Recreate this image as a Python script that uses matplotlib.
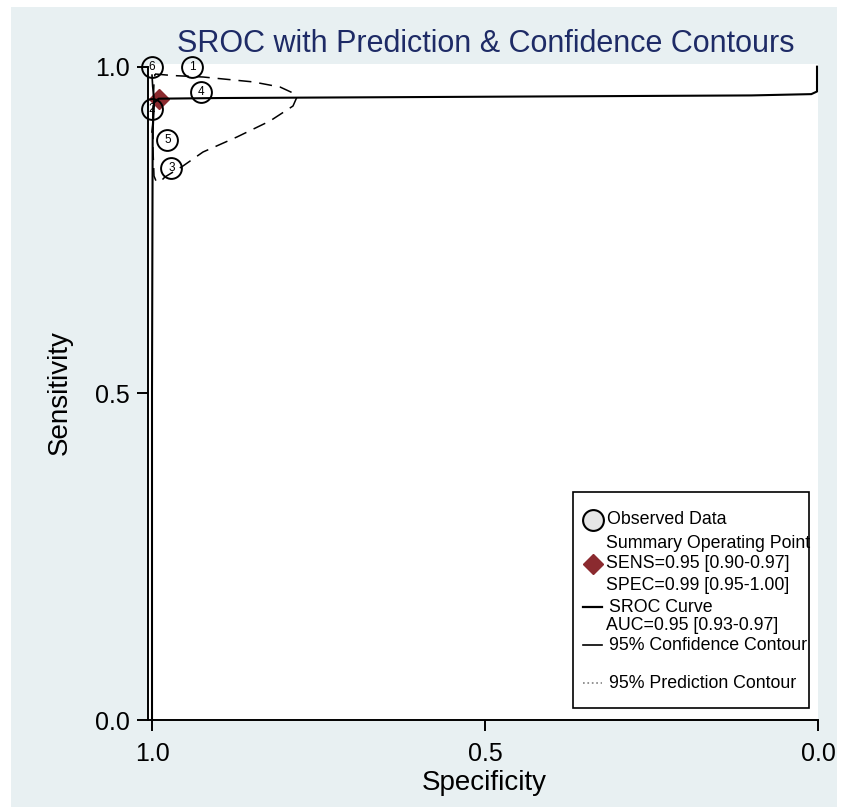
import matplotlib
matplotlib.use("Agg")
import matplotlib.pyplot as plt
from matplotlib.lines import Line2D
from matplotlib.patches import Rectangle

plt.rcParams['font.family'] = ['Liberation Sans', 'DejaVu Sans']

# observed studies (specificity, sensitivity)
study_ids = ['6', '1', '4', '2', '5', '3']
study_spec = [1.000, 0.940, 0.926, 1.000, 0.977, 0.971]
study_sens = [0.999, 0.999, 0.961, 0.935, 0.888, 0.845]

# summary operating point
summ_spec = 0.99
summ_sens = 0.95

# SROC curve
sroc_spec = [1.000, 1.000, 0.999, 0.997, 0.990, 0.900, 0.500, 0.100, 0.010, 0.0015, 0.0015]
sroc_sens = [0.000, 0.500, 0.900, 0.945, 0.951, 0.952, 0.954, 0.956, 0.958, 0.962, 1.000]

# 95% confidence contour (hugs the left edge)
conf_spec = [1.000, 0.999, 0.997, 0.999, 1.000]
conf_sens = [0.987, 0.970, 0.950, 0.910, 0.900]

# 95% prediction contour
pred_spec = [0.9955, 0.970, 0.9234, 0.8483, 0.8078, 0.7883, 0.7823, 0.7883, 0.8228,
             0.8724, 0.9234, 0.9535, 0.9805, 0.988, 0.994, 0.997, 0.9985, 0.9985, 0.997, 0.9955]
pred_sens = [0.9888, 0.9865, 0.9842, 0.9767, 0.9689, 0.9597, 0.9536, 0.9398, 0.9169,
             0.8924, 0.8694, 0.8480, 0.8312, 0.8235, 0.8251, 0.8327, 0.8725, 0.9337, 0.9766, 0.9888]

legend_lines = ['Observed Data', 'Summary Operating Point', 'SENS=0.95 [0.90-0.97]',
                'SPEC=0.99 [0.95-1.00]', 'SROC Curve', 'AUC=0.95 [0.93-0.97]',
                '95% Confidence Contour', '95% Prediction Contour']

W, H = 841, 807
def fx(x):
    return x / W
def fy(y):
    return 1 - y / H

fig = plt.figure(figsize=(W / 100, H / 100), dpi=100)
fig.patch.set_facecolor('white')
bg = '#e8f0f2'
fig.add_artist(Rectangle((fx(11), 0), fx(837) - fx(11), fy(7), transform=fig.transFigure,
                         facecolor=bg, edgecolor='none', zorder=0))

ax = fig.add_axes([fx(148), fy(720), 670 / W, (720 - 64) / H])
ax.set_facecolor('white')
ax.set_xlim(1.00601, 0.0)
ax.set_ylim(0, 1.0041)

ax.plot(summ_spec, summ_sens, 'D', color='#8b2a2f', ms=10, zorder=2, clip_on=False)
ax.plot(sroc_spec, sroc_sens, '-', color='black', lw=1.5, zorder=3, clip_on=False)
ax.plot(conf_spec, conf_sens, '-', color='black', lw=1.2, zorder=3, clip_on=False)
ax.plot(pred_spec, pred_sens, color='black', lw=1.1, ls=(0, (8.5, 5.2)), zorder=3, clip_on=False)
ax.plot(study_spec, study_sens, 'o', ms=15, mfc='none', mec='black', mew=1.4, zorder=4,
        clip_on=False)
for sid, sp, se in zip(study_ids, study_spec, study_sens):
    ax.text(sp, se, sid, fontsize=8.5, ha='center', va='center', zorder=5)

for s in ['top', 'right']:
    ax.spines[s].set_visible(False)
ax.spines['left'].set_linewidth(1.4)
ax.spines['bottom'].set_linewidth(1.4)
ax.spines['left'].set_bounds(0, 1.0)
ax.spines['bottom'].set_bounds(1.00601, 0.0)
ax.set_xticks([1.0, 0.5, 0.0])
ax.set_xticklabels(['1.0', '0.5', '0.0'])
ax.set_yticks([0.0, 0.5, 1.0])
ax.set_yticklabels(['0.0', '0.5', '1.0'])
ax.tick_params(axis='both', labelsize=18, length=8, width=1.4, direction='out')
ax.tick_params(axis='x', pad=8)
ax.tick_params(axis='y', pad=5)

fig.text(fx(486), fy(44), 'SROC with Prediction & Confidence Contours', fontsize=22,
         color='#1e2b66', ha='center', va='center')
fig.text(fx(484), fy(783), 'Specificity', fontsize=20, ha='center', va='center')
fig.text(fx(60), fy(393), 'Sensitivity', fontsize=20, ha='center', va='center', rotation=90)

# legend box
fig.add_artist(Rectangle((fx(573), fy(708)), fx(809) - fx(573), fy(492) - fy(708),
                         transform=fig.transFigure, facecolor='white', edgecolor='black',
                         lw=1.2, zorder=5))
ys = [520, 543, 564, 585, 607, 626, 646, 683]
xs = [607, 606, 606, 606, 609, 606, 609, 609]
for t, xx, yy in zip(legend_lines, xs, ys):
    fig.text(fx(xx), fy(yy), t, fontsize=12.8, ha='left', va='center', zorder=6)
fig.add_artist(Line2D([fx(593)], [fy(520)], marker='o', ms=15, mfc='#e6e6e6', mec='black',
                      mew=1.5, transform=fig.transFigure, zorder=6))
fig.add_artist(Line2D([fx(593)], [fy(564)], marker='D', ms=10, color='#8b2a2f',
                      transform=fig.transFigure, zorder=6))
fig.add_artist(Line2D([fx(583), fx(602)], [fy(607), fy(607)], color='black', lw=1.6,
                      transform=fig.transFigure, zorder=6))
fig.add_artist(Line2D([fx(583), fx(602)], [fy(645), fy(645)], color='black', lw=1.2,
                      transform=fig.transFigure, zorder=6))
fig.add_artist(Line2D([fx(583), fx(602)], [fy(683), fy(683)], color='gray', lw=1.2, ls=':',
                      transform=fig.transFigure, zorder=6))

fig.savefig('out.png', dpi=100)
